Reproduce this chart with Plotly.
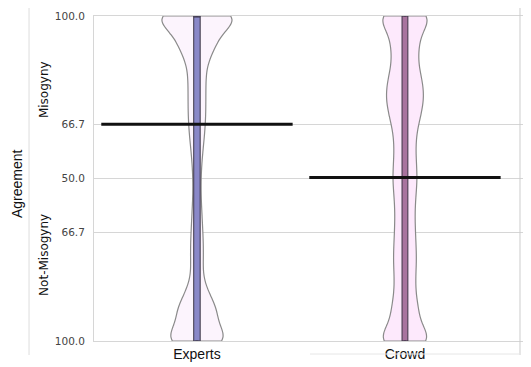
import numpy as np
import plotly.graph_objects as go

# ---- data ----
groups = ["Experts", "Crowd"]
levels = [0.00, 0.05, 0.10, 0.15, 0.20, 0.25, 0.30, 0.35, 0.40, 0.45, 0.50,
          0.55, 0.60, 0.65, 0.70, 0.75, 0.80, 0.85, 0.90, 0.95, 1.00]
expert_counts = [44, 25, 26, 14, 7, 8, 8, 7, 6, 5, 5,
                 6, 8, 10, 11, 11, 11, 12, 22, 30, 62]
crowd_counts = [83, 42, 37, 29, 29, 32, 30, 28, 27, 30, 34,
                31, 29, 33, 45, 53, 48, 36, 37, 44, 84]
# inner bar (box) statistics
box_low = [0.0, 0.0]
box_q1 = [0.0, 0.0]
box_median = [1.0, 0.503]
box_q3 = [1.0, 1.0]
box_high = [1.0, 1.0]
avg_agreement = [0.667, 0.503]
tick_vals = [0.0, 1/3, 0.5, 2/3, 1.0]
tick_text = ["100.0", "66.7", "50.0", "66.7", "100.0"]

expert_samples = np.repeat(levels, expert_counts)
crowd_samples = np.repeat(levels, crowd_counts)

fig = go.Figure()

violin_specs = [
    (0, expert_samples, 0.337, "#fcf4fd"),
    (1, crowd_samples, 0.212, "#fde9fc"),
]
for pos, samples, w, fill in violin_specs:
    fig.add_trace(go.Violin(
        x0=pos, y=samples, name=groups[pos],
        width=w, side="both", scalemode="width", spanmode="hard",
        bandwidth=0.035, points=False,
        fillcolor=fill, line=dict(color="#8a8a8a", width=1.2),
        box=dict(visible=False), meanline=dict(visible=False),
        showlegend=False, hoverinfo="skip",
    ))

box_styles = [(0.031, "#8a88c8"), (0.028, "#a8739e")]
for i, (bw, bfill) in enumerate(box_styles):
    fig.add_trace(go.Box(
        x=[i], lowerfence=[box_low[i]], q1=[box_q1[i]], median=[box_median[i]],
        q3=[box_q3[i]], upperfence=[box_high[i]], width=bw,
        fillcolor=bfill, line=dict(color="#3a3444", width=1),
        showlegend=False, hoverinfo="skip", boxpoints=False,
    ))

half = 0.46
for i, m in enumerate(avg_agreement):
    fig.add_trace(go.Scatter(
        x=[i - half, i + half], y=[m, m], mode="lines",
        line=dict(color="#111111", width=3), showlegend=False, hoverinfo="skip",
    ))

grid = "#d6d6d6"
fig.update_layout(
    width=523, height=359,
    margin=dict(l=86, r=0, t=8, b=26),
    paper_bgcolor="white", plot_bgcolor="white",
    violinmode="overlay", boxmode="overlay",
    xaxis=dict(range=[-0.495, 1.606], tickvals=[0, 1], ticktext=groups,
               showgrid=False, zeroline=False, showline=True, mirror=True,
               linecolor=grid, linewidth=1, ticks="",
               tickfont=dict(family="Liberation Sans, Arial", size=14, color="#111111")),
    yaxis=dict(range=[0, 1], tickvals=tick_vals, ticktext=tick_text,
               showgrid=True, gridcolor=grid, gridwidth=1, zeroline=False,
               showline=True, linecolor=grid, linewidth=1, ticks="",
               ticklabelstandoff=6,
               tickfont=dict(family="DejaVu Sans", size=10.5, color="#444444")),
    annotations=[
        dict(text="Agreement", xref="paper", yref="paper", x=-0.1762, y=0.483,
             showarrow=False, textangle=-90, xanchor="center", yanchor="middle",
             font=dict(family="Liberation Sans, Arial", size=14, color="#111111")),
        dict(text="Misogyny", xref="paper", yref="paper", x=-0.1144, y=0.772,
             showarrow=False, textangle=-90, xanchor="center", yanchor="middle",
             font=dict(family="DejaVu Sans", size=12, color="#111111")),
        dict(text="Not-Misogyny", xref="paper", yref="paper", x=-0.1144, y=0.265,
             showarrow=False, textangle=-90, xanchor="center", yanchor="middle",
             font=dict(family="DejaVu Sans", size=12, color="#111111")),
    ],
    shapes=[
        dict(type="line", xref="paper", yref="paper", x0=-0.1487, x1=-0.1487,
             y0=1.03, y1=-0.0431, line=dict(color="#dddddd", width=1)),
        dict(type="line", xref="paper", yref="paper", x0=0.9748, x1=0.9748,
             y0=1.03, y1=-0.0431, line=dict(color="#cccccc", width=1)),
        dict(type="line", xref="paper", yref="paper", x0=0.4943, x1=0.9748,
             y0=-0.04, y1=-0.04, line=dict(color="#e6e6e6", width=1)),
    ],
)

fig.write_html("out.html")
